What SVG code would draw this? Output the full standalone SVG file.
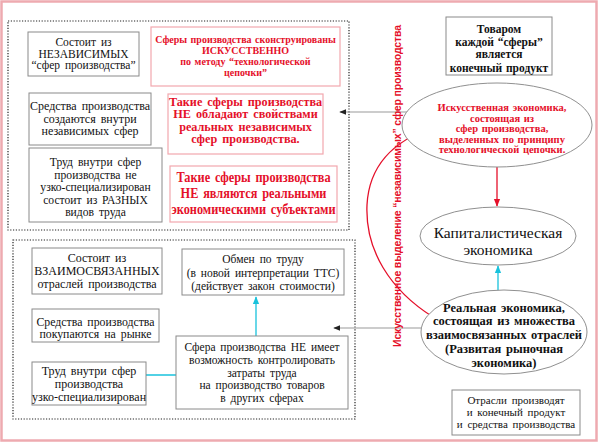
<svg xmlns="http://www.w3.org/2000/svg" width="600" height="446" viewBox="0 0 600 446">
<style>
.frame{fill:none;stroke:#eeaab0;stroke-width:2.5}
.dot{fill:none;stroke:#222;stroke-width:1.2;stroke-dasharray:1.2 1.6}
.gbox{fill:#fff;stroke:#8a8a8a;stroke-width:1}
.rbox{fill:#fff;stroke:#f2a7ae;stroke-width:1.2}
.ell{fill:#fff;stroke:#909090;stroke-width:1}
.t{fill:#111;text-anchor:middle;word-spacing:2px}
.b{font-weight:bold}
.r{fill:#e5102a}
.gl{stroke:#999;stroke-width:1.2;fill:none}
.cy{stroke:#18c2dc;stroke-width:1.3;fill:none}
.rl{stroke:#e5102a;stroke-width:1.3;fill:none}
</style>
<defs>
<marker id="ak" viewBox="0 0 10 10" refX="9" refY="5" markerWidth="6" markerHeight="6" orient="auto"><path d="M0,1 L10,5 L0,9 z" fill="#222"/></marker>
<marker id="ac" viewBox="0 0 10 10" refX="9" refY="5" markerWidth="6" markerHeight="6" orient="auto"><path d="M0,1 L10,5 L0,9 z" fill="#18c2dc"/></marker>
<marker id="ar" viewBox="0 0 10 10" refX="9" refY="5" markerWidth="6" markerHeight="6" orient="auto"><path d="M0,1 L10,5 L0,9 z" fill="#e5102a"/></marker>
</defs>
<rect width="600" height="446" fill="#fff"/>
<rect class="frame" x="1.5" y="1.5" width="595" height="439"/>
<rect class="dot" x="8" y="21" width="341" height="209"/>
<rect class="dot" x="13" y="240" width="342" height="179"/>

<g id="connectors">
<line class="gl" x1="433" y1="112" x2="340" y2="112" marker-end="url(#ak)"/>
<line class="gl" x1="430" y1="328" x2="334" y2="328" marker-end="url(#ak)"/>
<line class="rl" x1="497" y1="158" x2="497" y2="206" marker-end="url(#ar)"/>
<line class="cy" x1="498" y1="308" x2="498" y2="266" marker-end="url(#ac)"/>
<line class="cy" x1="143" y1="375" x2="183" y2="375" marker-end="url(#ac)"/>
<line class="cy" x1="256" y1="336" x2="256" y2="297" marker-end="url(#ac)"/>
<path class="rl" d="M433,317 C390,290 365,250 367,205 C369,165 395,140 434,127" marker-end="url(#ar)"/>
</g>

<text fill="#e5102a" font-family="Liberation Sans, Arial, sans-serif" font-size="10.5" font-weight="bold" text-anchor="middle" transform="translate(401,186) rotate(-90)" textLength="322" lengthAdjust="spacing">Искусственное выделение “независимых” сфер производства</text>

<g id="n1"><rect class="gbox" x="28" y="32" width="111" height="44"/>
<text class="t" font-family="Liberation Serif, serif" font-size="11.5"><tspan x="83.5" y="46">Состоит из</tspan><tspan x="83.5" y="57.5">НЕЗАВИСИМЫХ</tspan><tspan x="83.5" y="69">“сфер производства”</tspan></text></g>

<g id="n2"><rect class="gbox" x="29" y="93" width="122" height="52"/>
<text class="t" font-family="Liberation Serif, serif" font-size="12"><tspan x="90" y="110">Средства производства</tspan><tspan x="90" y="122.5">создаются внутри</tspan><tspan x="90" y="135">независимых сфер</tspan></text></g>

<g id="n3"><rect class="gbox" x="29" y="148" width="133" height="74"/>
<text class="t" font-family="Liberation Serif, serif" font-size="11.6"><tspan x="95.5" y="166">Труд внутри сфер</tspan><tspan x="95.5" y="178.5">производства не</tspan><tspan x="95.5" y="191">узко-специализирован</tspan><tspan x="95.5" y="203.5">состоит из РАЗНЫХ</tspan><tspan x="95.5" y="216">видов труда</tspan></text></g>

<g id="r1"><rect class="rbox" x="151" y="27" width="189" height="59"/>
<text class="t b r" font-family="Liberation Serif, serif" font-size="10" style="word-spacing:1px"><tspan x="245.5" y="42.5">Сферы производства сконструированы</tspan><tspan x="245.5" y="53.5">ИСКУССТВЕННО</tspan><tspan x="245.5" y="64.5">по методу “технологической</tspan><tspan x="245.5" y="75.5">цепочки”</tspan></text></g>

<g id="r2"><rect class="rbox" x="168" y="94" width="155" height="60"/>
<text class="t b r" font-family="Liberation Serif, serif" font-size="12.2"><tspan x="245.5" y="105.5">Такие сферы производства</tspan><tspan x="245.5" y="118">НЕ обладают свойствами</tspan><tspan x="245.5" y="130.5">реальных независимых</tspan><tspan x="245.5" y="143">сфер производства.</tspan></text></g>

<g id="r3"><rect class="rbox" x="170" y="166" width="167" height="56"/>
<text class="t b r" font-family="Liberation Serif, serif" font-size="14" transform="translate(253.5,0) scale(0.88,1) translate(-253.5,0)"><tspan x="253.5" y="182">Такие сферы производства</tspan><tspan x="253.5" y="198">НЕ являются реальными</tspan><tspan x="253.5" y="214">экономическими субъектами</tspan></text></g>

<g id="n4"><rect class="gbox" x="446" y="17" width="106" height="58"/>
<text class="t b" font-family="Liberation Serif, serif" font-size="11.5" style="word-spacing:1px"><tspan x="499" y="33">Товаром</tspan><tspan x="499" y="46">каждой “сферы”</tspan><tspan x="499" y="58">является</tspan><tspan x="499" y="72">конечный продукт</tspan></text></g>

<g id="e1"><ellipse class="ell" cx="497" cy="125" rx="95" ry="42"/>
<text class="t b r" font-family="Liberation Serif, serif" font-size="10.5" style="word-spacing:1px"><tspan x="502" y="111">Искусственная экономика,</tspan><tspan x="502" y="121.5">состоящая из</tspan><tspan x="502" y="132">сфер производства,</tspan><tspan x="502" y="142.5">выделенных по принципу</tspan><tspan x="502" y="153">технологической цепочки.</tspan></text></g>

<g id="e2"><ellipse class="ell" cx="498" cy="236" rx="78" ry="29"/>
<text class="t" font-family="Liberation Serif, serif" font-size="15.5"><tspan x="498" y="237.5">Капиталистическая</tspan><tspan x="498" y="254.5">экономика</tspan></text></g>

<g id="e3"><ellipse class="ell" cx="504" cy="332" rx="83" ry="42"/>
<text class="t b" font-family="Liberation Serif, serif" font-size="12.5" style="word-spacing:1.5px"><tspan x="504" y="311.5">Реальная экономика,</tspan><tspan x="504" y="325">состоящая из множества</tspan><tspan x="504" y="338.5">взаимосвязанных отраслей</tspan><tspan x="504" y="352.5">(Развитая рыночная</tspan><tspan x="504" y="366.5">экономика)</tspan></text></g>

<g id="n5"><rect class="gbox" x="452" y="390" width="128" height="45"/>
<text class="t" font-family="Liberation Serif, serif" font-size="11"><tspan x="516" y="404">Отрасли производят</tspan><tspan x="516" y="416">и конечный продукт</tspan><tspan x="516" y="427.5">и средства производства</tspan></text></g>

<g id="b1"><rect class="gbox" x="32" y="248" width="130" height="46"/>
<text class="t" font-family="Liberation Serif, serif" font-size="12"><tspan x="97" y="262">Состоит из</tspan><tspan x="97" y="275">ВЗАИМОСВЯЗАННЫХ</tspan><tspan x="97" y="288">отраслей производства</tspan></text></g>

<g id="b2"><rect class="gbox" x="32" y="309" width="127" height="33"/>
<text class="t" font-family="Liberation Serif, serif" font-size="11.8"><tspan x="95.5" y="325.5">Средства производства</tspan><tspan x="95.5" y="338">покупаются на рынке</tspan></text></g>

<g id="b3"><rect class="gbox" x="32" y="362" width="114" height="43"/>
<text class="t" font-family="Liberation Serif, serif" font-size="12"><tspan x="89" y="375">Труд внутри сфер</tspan><tspan x="89" y="388">производства</tspan><tspan x="89" y="401">узко-специализирован</tspan></text></g>

<g id="b4"><rect class="gbox" x="182" y="249" width="162" height="46"/>
<text class="t" font-family="Liberation Serif, serif" font-size="11.5"><tspan x="263" y="263">Обмен по труду</tspan><tspan x="263" y="277">(в новой интерпретации ТТС)</tspan><tspan x="263" y="290">(действует закон стоимости)</tspan></text></g>

<g id="b5"><rect class="gbox" x="176" y="336" width="172" height="73"/>
<text class="t" font-family="Liberation Serif, serif" font-size="11.5"><tspan x="262" y="351">Сфера производства НЕ имеет</tspan><tspan x="262" y="364">возможность контролировать</tspan><tspan x="262" y="376.5">затраты труда</tspan><tspan x="262" y="389">на производство товаров</tspan><tspan x="262" y="402">в других сферах</tspan></text></g>
</svg>
